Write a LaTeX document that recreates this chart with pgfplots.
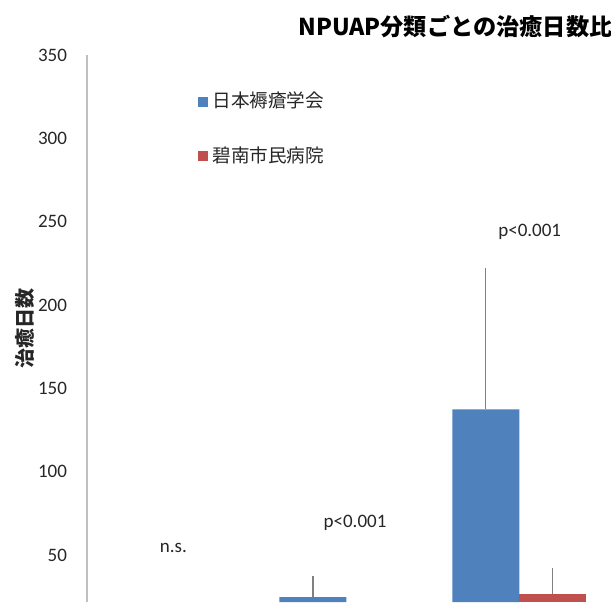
\documentclass[border=0pt]{standalone}
\usepackage{fontspec}
\setmainfont{Carlito}
\newfontfamily\cjk{Noto Sans CJK JP}
\usepackage{pgfplots}
\pgfplotsset{compat=1.18}
\definecolor{barblue}{HTML}{4F81BD}
\definecolor{barred}{HTML}{C0504D}
\definecolor{txt}{HTML}{262626}

\begin{document}
\begin{tikzpicture}
% the reference is a cropped view: keep only that window
\path[use as bounding box, clip] (-43.5pt,0pt) rectangle (262pt,301pt);

\node[anchor=west, text=black, inner sep=0pt,
      font=\cjk\bfseries\fontsize{11.6}{13}\selectfont] at (105.5pt,287.5pt)
      {NPUAP分類ごとの治癒日数比較};

\begin{axis}[
    at={(0,0)}, anchor=south west,
    scale only axis,
    width=262pt, height=273.5pt,
    ybar=0pt, bar width=33.5pt,
    xmin=0.5, xmax=3.53,
    ymin=21.8, ymax=350,
    axis y line*=left, axis x line*=none,
    x axis line style={draw=none},
    xtick=\empty,
    ytick={50,100,150,200,250,300,350},
    major tick length=0pt,
    y axis line style={draw=gray!50, line width=0.6pt},
    /pgf/number format/assume math mode=true,
    yticklabel style={font=\fontsize{9.5}{11}\selectfont, text=txt, xshift=-6.5pt},
    ylabel={治癒日数},
    every axis y label/.style={at={(rel axis cs:0,0.5)}, xshift=-31pt,
        rotate=90, anchor=center, font=\cjk\bfseries\fontsize{10}{12}\selectfont, text=txt},
    legend style={draw=none, fill=none, at={(0.212,0.94)}, anchor=north west,
        font=\cjk\fontsize{9.3}{11}\selectfont, text=txt, row sep=14pt,
        inner sep=0pt, legend cell align=left},
    legend image code/.code={\fill[#1,draw=none] (0pt,-2.5pt) rectangle (5pt,2.5pt);},
    error bars/error bar style={draw=gray, line width=0.6pt},
    error bars/error mark options={draw=gray, mark size=1.5pt, line width=0.6pt},
]

% only the bars that reach into the visible window
\addplot[fill=barblue, draw=none,
    error bars/.cd, y dir=plus, y explicit]
    coordinates {(2,24.8) +- (0,10.8) (3,137.4) +- (0,83)};
\addlegendentry{日本褥瘡学会}

\addplot[fill=barred, draw=none,
    error bars/.cd, y dir=plus, y explicit]
    coordinates {(3,26.6) +- (0,13.8)};
\addlegendentry{碧南市民病院}

\node[font=\fontsize{9.5}{11}\selectfont, text=txt] at (axis cs:1,54.2) {n.s.};
\node[font=\fontsize{9.5}{11}\selectfont, text=txt] at (axis cs:2.05,69.2) {p<0.001};
\node[font=\fontsize{9.5}{11}\selectfont, text=txt] at (axis cs:3.06,243.8) {p<0.001};
\end{axis}
\end{tikzpicture}
\end{document}
